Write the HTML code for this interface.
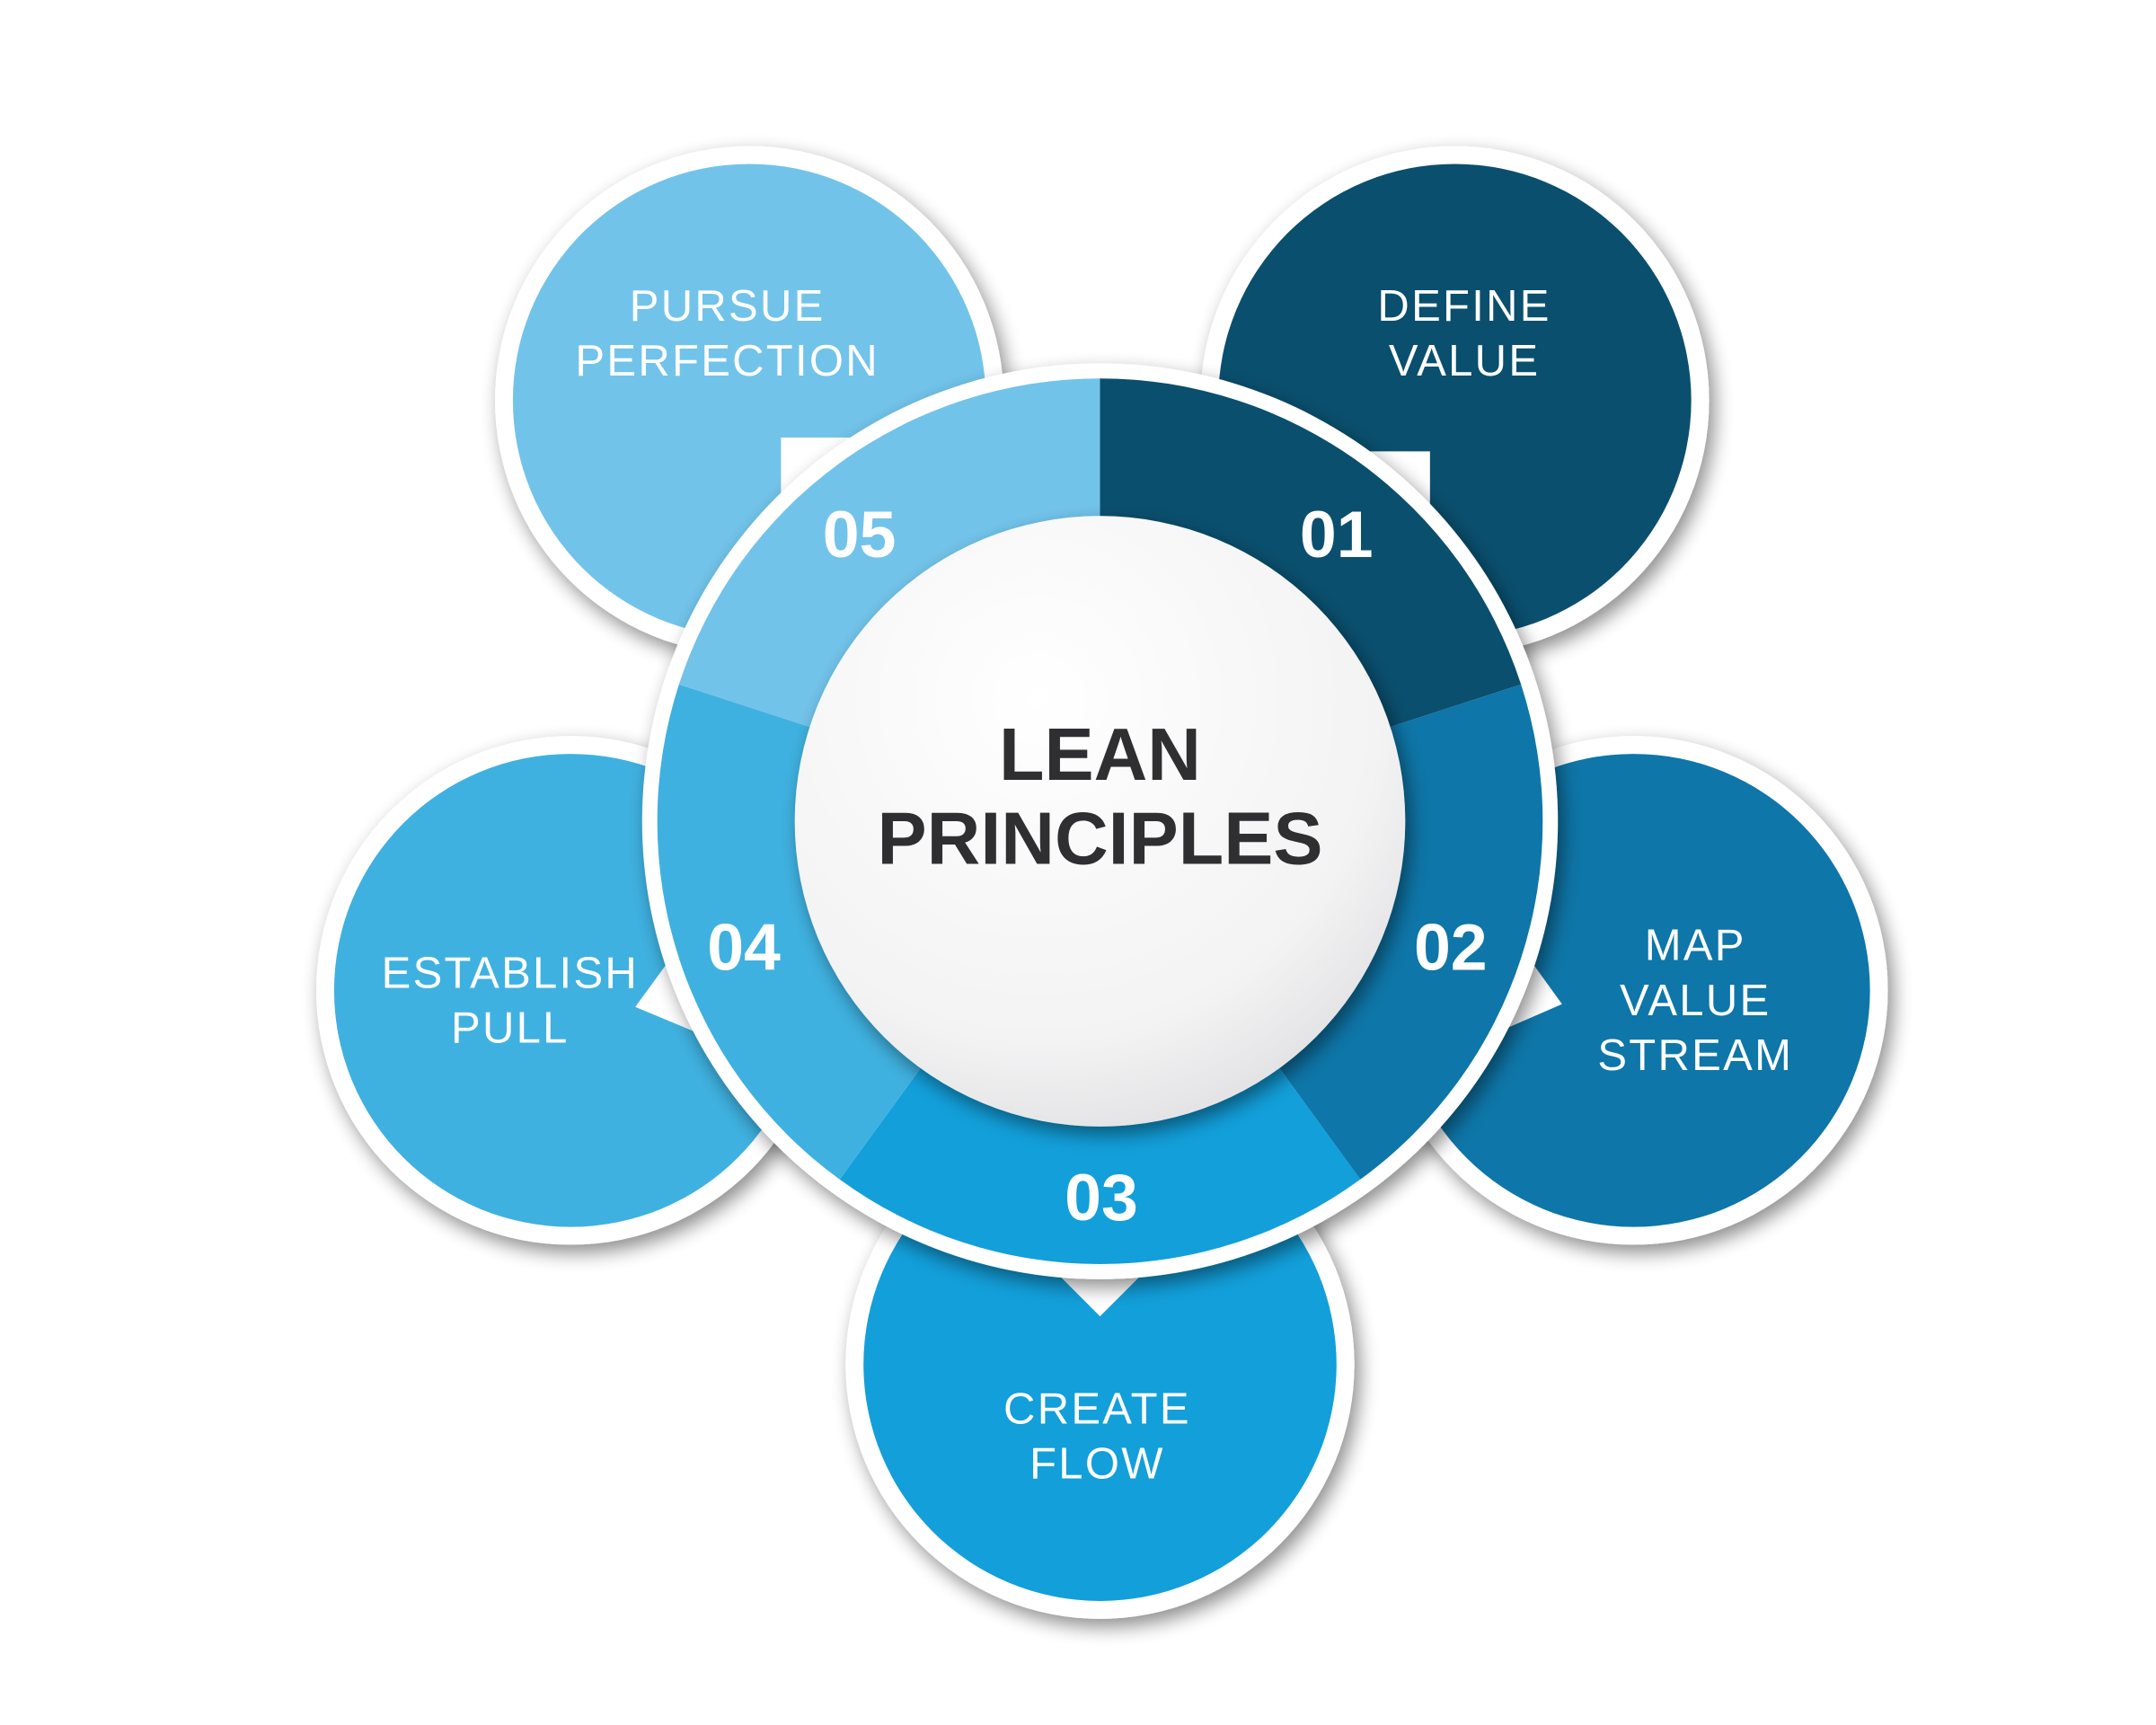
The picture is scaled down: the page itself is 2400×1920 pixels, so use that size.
<!DOCTYPE html>
<html><head><meta charset="utf-8"><style>html,body{margin:0;padding:0;background:#fff}svg{display:block}</style></head>
<body>
<svg width="2400" height="1920" viewBox="0 0 1568 1254" xmlns="http://www.w3.org/2000/svg">
<defs>
<filter id="sh" x="-30%" y="-30%" width="160%" height="160%"><feGaussianBlur in="SourceAlpha" stdDeviation="7"/><feOffset dx="4" dy="6"/><feComponentTransfer><feFuncA type="linear" slope="0.45"/></feComponentTransfer><feMerge><feMergeNode/><feMergeNode in="SourceGraphic"/></feMerge></filter>
<radialGradient id="cg" cx="0.4" cy="0.3" r="0.8"><stop offset="0" stop-color="#ffffff"/><stop offset="0.7" stop-color="#f3f3f4"/><stop offset="1" stop-color="#dcdcde"/></radialGradient>
</defs>
<g filter="url(#sh)">
<circle cx="1058" cy="291" r="185" fill="#fff"/>
<circle cx="545" cy="291" r="185" fill="#fff"/>
<circle cx="1188" cy="720" r="185" fill="#fff"/>
<circle cx="415" cy="720" r="185" fill="#fff"/>
<circle cx="800" cy="992" r="185" fill="#fff"/>
</g>
<circle cx="1058" cy="291" r="172" fill="#0a4f6e"/>
<circle cx="545" cy="291" r="172" fill="#72c3ea"/>
<circle cx="1188" cy="720" r="172" fill="#0e76a8"/>
<circle cx="415" cy="720" r="172" fill="#3fb1e0"/>
<circle cx="800" cy="992" r="172" fill="#129fda"/>
<polygon points="568,318 620,318 620,370 568,370" fill="#fff"/>
<polygon points="990,328 1040,328 1040,378 990,378" fill="#fff"/>
<polygon points="1100,680 1136,730 1090,750" fill="#fff"/>
<polygon points="500,680 462,732 510,752" fill="#fff"/>
<polygon points="765,922 835,922 800,957" fill="#fff"/>
<g filter="url(#sh)"><circle cx="800" cy="597" r="333" fill="#fff"/></g>
<g transform="translate(800,597)">
<path d="M0,0 L0,-322 A322,322 0 0 1 306.2,-99.5 Z" fill="#0a4f6e"/>
<path d="M0,0 L306.2,-99.5 A322,322 0 0 1 189.3,260.5 Z" fill="#0e76a8"/>
<path d="M0,0 L189.3,260.5 A322,322 0 0 1 -189.3,260.5 Z" fill="#129fda"/>
<path d="M0,0 L-189.3,260.5 A322,322 0 0 1 -306.2,-99.5 Z" fill="#3fb1e0"/>
<path d="M0,0 L-306.2,-99.5 A322,322 0 0 1 0,-322 Z" fill="#72c3ea"/>
</g>
<g filter="url(#sh)"><circle cx="800" cy="597" r="222" fill="url(#cg)"/></g>
<g font-family="Liberation Sans, sans-serif" fill="#fff" text-anchor="middle">
<g font-weight="bold" font-size="48">
<text x="972" y="405">01</text>
<text x="1055" y="705">02</text>
<text x="801" y="887">03</text>
<text x="541" y="705">04</text>
<text x="625" y="405">05</text>
</g>
<g font-size="32" letter-spacing="1.5">
<text x="1065" y="233">DEFINE</text><text x="1065" y="273">VALUE</text>
<text x="529" y="233">PURSUE</text><text x="529" y="273">PERFECTION</text>
<text x="1233" y="698">MAP</text><text x="1233" y="738">VALUE</text><text x="1233" y="778">STREAM</text>
<text x="371" y="718">ESTABLISH</text><text x="371" y="758">PULL</text>
<text x="798" y="1035">CREATE</text><text x="798" y="1075">FLOW</text>
</g>
</g>
<g font-family="Liberation Sans, sans-serif" fill="#2f2f31" font-weight="bold" font-size="54" text-anchor="middle">
<text x="800" y="567">LEAN</text><text x="800" y="628">PRINCIPLES</text>
</g>
</svg>
</body></html>
